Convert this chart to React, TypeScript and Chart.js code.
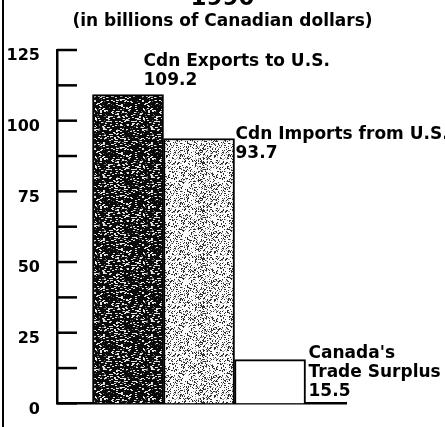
import { useEffect, useRef } from "react";
import { Chart, registerables } from "chart.js";

Chart.register(...registerables);

// ---- data ----
const TITLE = "1990";
const SUBTITLE = "(in billions of Canadian dollars)";
const CATEGORIES = ["Cdn Exports to U.S.", "Cdn Imports from U.S.", "Canada's\nTrade Surplus"];
const VALUES = [109.2, 93.7, 15.5];
const Y_TICK_LABELS = ["0", "25", "50", "75", "100", "125"];
const Y_MIN = 0;
const Y_MAX = 125;
const Y_STEP = 12.5;

// ---- layout / style ----
const FONT = '"DejaVu Sans", "Open Sans", sans-serif';
const W = 445;
const H_VISIBLE = 427;
const SHIFT = 24;
const H = 454;
// label placement relative to each bar: dx from the bar's right edge, dy of first baseline from bar top
const LABEL_ANCHORS = [
  { dx: -20, dy: -28.5 },
  { dx: 1, dy: 1 },
  { dx: 3, dy: -2 },
];
const LINE_GAP = 19;

function makePattern(kind: "dark" | "light") {
  const size = 48;
  const c = document.createElement("canvas");
  c.width = size;
  c.height = size;
  const g = c.getContext("2d")!;
  const img = g.createImageData(size, size);
  const vals = new Array(size * size).fill(kind === "dark" ? 10 : 252);
  let s = kind === "dark" ? 12345 : 67891;
  for (let i = 0; i < size * size; i++) {
    s = (Math.imul(s, 1103515245) + 12345) >>> 0;
    const r = (s >>> 8) / 16777216;
    if (kind === "dark") {
      if (r < 0.1) {
        vals[i] = 235;
        vals[(i + 1) % (size * size)] = 220;
      } else if (r < 0.16) {
        vals[i] = Math.max(vals[i], 110);
      }
    } else {
      if (r < 0.2) vals[i] = 45;
      else if (r < 0.28) vals[i] = 160;
    }
  }
  for (let i = 0; i < size * size; i++) {
    img.data[i * 4] = vals[i];
    img.data[i * 4 + 1] = vals[i];
    img.data[i * 4 + 2] = vals[i];
    img.data[i * 4 + 3] = 255;
  }
  g.putImageData(img, 0, 0);
  return g.createPattern(c, "repeat")!;
}

const tickMarks = {
  id: "tickMarks",
  afterDraw(chart: any) {
    const y = chart.scales.y;
    const ctx = chart.ctx;
    const left = chart.chartArea.left;
    ctx.save();
    ctx.strokeStyle = "#000";
    ctx.lineWidth = 2.5;
    y.ticks.forEach((t: any) => {
      const py = y.getPixelForValue(t.value);
      ctx.beginPath();
      ctx.moveTo(left, py);
      ctx.lineTo(left + 20, py);
      ctx.stroke();
    });
    ctx.restore();
  },
};

const barLabels = {
  id: "barLabels",
  afterDatasetsDraw(chart: any) {
    const meta = chart.getDatasetMeta(0);
    const ctx = chart.ctx;
    ctx.save();
    ctx.fillStyle = "#000";
    ctx.font = `bold 17px ${FONT}`;
    ctx.textAlign = "left";
    ctx.textBaseline = "alphabetic";
    meta.data.forEach((el: any, i: number) => {
      const lines = [...CATEGORIES[i].split("\n"), VALUES[i].toFixed(1)];
      const a = LABEL_ANCHORS[i];
      const x = el.x + el.width / 2 + a.dx;
      const y0 = el.y + a.dy;
      lines.forEach((ln, k) => ctx.fillText(ln, x, y0 + k * LINE_GAP));
    });
    ctx.restore();
  },
};

export default function App() {
  const ref = useRef<HTMLCanvasElement>(null);
  useEffect(() => {
    if (!ref.current) return;
    const dark = makePattern("dark");
    const light = makePattern("light");
    const chart = new Chart(ref.current, {
      type: "bar",
      data: {
        datasets: [
          {
            data: VALUES.map((v, i) => ({ x: i + 1, y: v })),
            backgroundColor: [dark, light, "#ffffff"],
            borderColor: "#000",
            borderWidth: 2,
            barPercentage: 1,
            categoryPercentage: 1,
          },
        ],
      },
      options: {
        responsive: false,
        animation: false,
        events: [],
        layout: { padding: { top: 11.5, left: 0, right: 0, bottom: 0 } },
        plugins: {
          legend: { display: false },
          tooltip: { enabled: false },
          title: {
            display: true,
            text: TITLE,
            color: "#000",
            font: { family: FONT, size: 23, weight: "bold", lineHeight: 1 },
            padding: { top: 0, bottom: 0 },
          },
          subtitle: {
            display: true,
            text: SUBTITLE,
            color: "#000",
            font: { family: FONT, size: 17, weight: "bold", lineHeight: 1.2 },
            padding: { top: 0.5, bottom: 18.6 },
          },
        },
        scales: {
          x: {
            type: "linear",
            offset: false,
            min: 0,
            max: 4.07,
            grid: { display: false, offset: false },
            ticks: { display: false },
            border: { display: true, color: "#000", width: 2.5 },
            afterBuildTicks: (s: any) => {
              s.ticks = VALUES.map((_, i) => ({ value: i + 1 }));
            },
            afterFit: (s: any) => {
              s.height = 12;
            },
          },
          y: {
            min: Y_MIN,
            max: Y_MAX,
            grid: { display: false, drawTicks: false },
            border: { display: true, color: "#000", width: 2.5 },
            ticks: {
              stepSize: Y_STEP,
              padding: 17,
              labelOffset: 6,
              color: "#000",
              font: { family: FONT, size: 16, weight: "bold" },
              callback: (v: any) => (Y_TICK_LABELS.includes(String(v)) ? String(v) : ""),
            },
            afterFit: (s: any) => {
              s.width = 57;
            },
          },
          yRight: {
            type: "linear",
            position: "right",
            display: true,
            grid: { display: false, drawTicks: false },
            border: { display: false },
            ticks: { display: false },
            afterFit: (s: any) => {
              s.width = 99;
            },
          },
        },
      },
      plugins: [tickMarks, barLabels],
    } as any);
    return () => chart.destroy();
  }, []);

  return (
    <div
      style={{
        position: "fixed",
        left: 0,
        top: 0,
        width: W,
        height: H_VISIBLE,
        overflow: "hidden",
        background: "#fff",
      }}
    >
      <canvas
        ref={ref}
        width={W}
        height={H}
        style={{ position: "absolute", left: 0, top: -SHIFT, width: W, height: H }}
      />
      <div style={{ position: "absolute", left: 2, top: 0, width: 2, height: H_VISIBLE, background: "#000" }} />
    </div>
  );
}
